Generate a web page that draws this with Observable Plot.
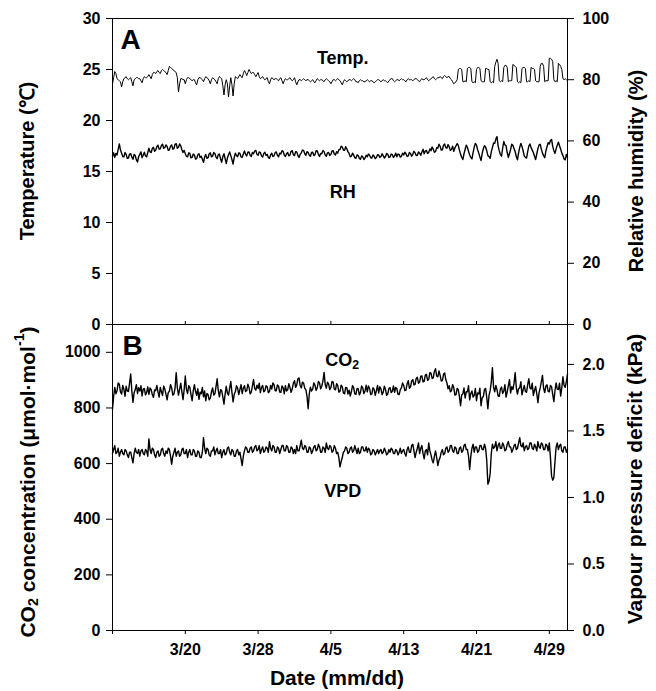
<!DOCTYPE html>
<html>
<head>
<meta charset="utf-8">
<script src="https://cdn.jsdelivr.net/npm/d3@7"></script>
<script src="https://cdn.jsdelivr.net/npm/@observablehq/plot@0.6"></script>
<style>
  body { margin: 0; background: #fff; }
  #chart { position: relative; width: 656px; height: 691px; background: #fff; }
  #chart svg { position: absolute; left: 0; overflow: visible; background: transparent !important; }
</style>
</head>
<body>
<div id="chart"></div>
<script>
// ---------- data, 8 samples per day starting 3/12 ----------
const samplesPerDay = 8;

const tempC = [
  23.6, 24.2, 24.8, 24.6, 24.1, 24.0, 23.9, 23.8,
  23.3, 23.8, 24.1, 24.2, 24.3, 24.1, 24.0, 24.1,
  24.2, 23.8, 23.4, 24.0, 24.1, 24.2, 24.2, 24.1,
  24.1, 23.9, 23.7, 24.1, 24.3, 24.2, 24.2, 24.3,
  24.5, 24.3, 24.1, 24.5, 24.7, 24.7, 24.6, 24.8,
  24.9, 24.7, 24.6, 24.9, 25.0, 24.9, 24.8, 24.7,
  24.5, 24.9, 25.3, 25.2, 25.1, 25.0, 24.9, 24.8,
  24.7, 24.2, 22.8, 23.6, 24.1, 24.1, 24.0, 24.0,
  23.6, 24.0, 24.2, 24.2, 24.1, 24.0, 23.9, 24.0,
  24.0, 23.7, 23.5, 24.0, 24.2, 24.2, 24.1, 24.0,
  23.8, 24.1, 24.3, 24.2, 24.1, 23.9, 23.6, 24.0,
  24.2, 24.1, 24.0, 23.8, 23.6, 24.1, 24.3, 24.2,
  24.1, 23.4, 22.5, 23.5, 24.0, 23.6, 22.3, 23.4,
  24.2, 23.5, 22.4, 23.6, 24.3, 24.2, 24.1, 24.3,
  24.5, 24.3, 24.2, 24.6, 24.9, 24.7, 24.4, 24.7,
  25.0, 24.8, 24.6, 24.7, 24.7, 24.5, 24.3, 24.5,
  24.7, 24.3, 24.1, 24.2, 24.3, 24.1, 24.0, 24.1,
  24.2, 23.8, 23.6, 24.0, 24.2, 24.1, 24.0, 24.1,
  24.1, 24.0, 23.9, 24.1, 24.2, 23.9, 23.6, 23.9,
  24.1, 24.0, 24.0, 24.1, 24.2, 24.0, 23.9, 24.0,
  24.2, 23.8, 23.5, 23.8, 24.0, 24.0, 23.9, 24.0,
  24.1, 24.0, 23.9, 24.0, 24.0, 23.9, 23.8, 23.9,
  24.0, 23.8, 23.7, 23.9, 24.1, 24.0, 23.9, 24.0,
  24.0, 23.9, 23.8, 24.0, 24.1, 24.0, 23.9, 23.8,
  23.6, 23.8, 24.0, 24.0, 23.9, 24.0, 24.1, 24.0,
  23.9, 23.7, 23.5, 23.8, 24.0, 23.9, 23.8, 23.9,
  24.0, 24.0, 23.9, 24.0, 24.1, 24.0, 23.8, 23.8,
  23.7, 23.9, 24.0, 23.9, 23.9, 23.8, 23.8, 23.9,
  24.0, 23.9, 23.8, 23.9, 23.9, 23.8, 23.7, 23.8,
  23.9, 24.0, 24.0, 23.9, 23.8, 23.9, 24.0, 23.9,
  23.9, 23.8, 23.7, 23.9, 24.0, 24.1, 24.1, 23.9,
  23.8, 23.9, 24.0, 24.0, 23.9, 24.0, 24.1, 24.0,
  24.0, 23.9, 23.8, 24.0, 24.1, 24.0, 24.0, 24.0,
  23.9, 24.0, 24.1, 24.1, 24.0, 23.9, 23.8, 24.0,
  24.1, 24.0, 24.0, 24.1, 24.2, 24.0, 23.9, 24.0,
  24.1, 24.2, 24.3, 24.1, 24.0, 24.1, 24.2, 24.2,
  24.3, 24.2, 24.1, 24.3, 24.4, 24.3, 24.2, 24.3,
  24.3, 24.1, 24.0, 23.8, 23.6, 23.7, 23.8, 24.0,
  25.0, 25.1, 25.1, 25.0, 23.8, 23.8, 23.9, 23.8,
  25.1, 25.2, 25.2, 25.1, 23.8, 23.7, 23.8, 23.7,
  25.0, 25.2, 25.2, 25.1, 23.9, 23.8, 23.8, 23.8,
  25.1, 25.1, 25.0, 25.0, 23.8, 23.7, 23.8, 23.7,
  25.3, 25.7, 26.0, 25.6, 23.9, 23.8, 23.9, 23.8,
  25.2, 25.4, 25.4, 25.2, 23.8, 23.9, 23.9, 23.9,
  25.5, 25.4, 25.3, 25.2, 23.8, 23.7, 23.8, 23.7,
  25.1, 25.2, 25.2, 25.1, 23.8, 23.8, 23.9, 23.8,
  25.2, 25.1, 25.1, 25.0, 23.9, 23.8, 23.8, 23.8,
  25.3, 25.6, 25.6, 25.3, 23.8, 23.9, 23.9, 23.9,
  26.1, 26.1, 26.0, 25.8, 24.0, 23.8, 23.9, 23.8,
  25.6, 25.5, 25.3, 25.0, 24.1, 24.0, 24.1, 24.0,
  23.9
];

const rhPct = [
  55.0, 56.1, 54.6, 55.9, 55.4, 57.2, 59.0, 57.1,
  56.0, 54.9, 54.8, 56.2, 55.6, 54.3, 54.4, 55.7,
  55.8, 54.7, 54.0, 55.6, 55.2, 53.8, 53.1, 54.9,
  55.6, 56.4, 54.5, 55.3, 56.3, 55.1, 54.8, 56.2,
  57.6, 56.4, 56.2, 57.5, 57.9, 56.6, 57.0, 58.1,
  58.6, 57.3, 57.4, 58.5, 58.9, 57.6, 57.8, 58.7,
  58.2, 56.9, 57.1, 58.3, 58.7, 57.3, 57.5, 58.9,
  59.1, 57.6, 57.9, 59.0, 58.4, 57.1, 56.2, 56.9,
  55.8, 55.0, 54.8, 56.1, 55.9, 54.5, 54.6, 55.7,
  55.4, 54.1, 54.2, 55.5, 55.8, 54.6, 55.0, 54.0,
  53.0, 54.7, 55.6, 54.3, 54.5, 55.8, 56.1, 54.8,
  55.0, 56.2, 55.9, 54.7, 54.2, 55.5, 55.7, 54.1,
  53.0, 54.9, 55.8, 54.2, 52.6, 54.4, 55.5, 56.4,
  55.2, 53.9, 52.4, 54.6, 56.0, 55.2, 54.8, 56.1,
  55.9, 54.8, 54.6, 55.7, 56.7, 55.6, 55.1, 56.3,
  56.4, 55.3, 54.9, 56.2, 55.8, 56.7, 56.9, 55.6,
  55.3, 56.4, 56.2, 55.1, 54.7, 55.9, 56.3, 55.2,
  55.6, 54.6, 54.3, 55.4, 56.0, 54.9, 55.1, 56.2,
  56.4, 55.3, 54.8, 56.0, 55.7, 56.8, 56.6, 55.4,
  54.9, 55.8, 56.2, 55.1, 55.4, 56.6, 56.8, 55.5,
  55.2, 56.5, 56.4, 55.2, 54.6, 55.6, 56.1, 57.0,
  56.9, 55.8, 55.3, 56.5, 56.2, 55.3, 55.0, 56.2,
  56.3, 55.2, 55.5, 56.8, 56.7, 55.6, 54.9, 55.9,
  55.8, 56.9, 56.5, 55.4, 55.0, 56.1, 56.2, 55.2,
  55.6, 56.7, 56.8, 55.7, 55.4, 56.5, 56.0, 57.1,
  57.2, 58.3, 58.0, 57.0, 56.9, 58.1, 57.4, 56.5,
  55.9, 54.8, 55.0, 56.0, 55.4, 54.5, 54.3, 55.4,
  55.2, 54.3, 54.0, 55.1, 54.8, 53.9, 54.4, 55.3,
  54.8, 55.7, 55.3, 54.5, 54.4, 55.4, 55.0, 54.2,
  54.6, 55.5, 55.4, 54.6, 54.9, 55.8, 55.2, 54.4,
  54.9, 55.9, 55.6, 54.6, 54.7, 55.7, 55.5, 54.6,
  55.1, 56.0, 54.8, 55.7, 55.6, 54.7, 55.0, 56.0,
  55.4, 56.3, 55.8, 54.9, 55.1, 56.2, 55.9, 55.0,
  55.6, 56.6, 56.1, 55.2, 55.3, 56.4, 56.0, 55.3,
  56.4, 57.3, 55.8, 56.7, 56.9, 55.9, 56.2, 57.4,
  56.8, 58.0, 57.3, 56.3, 56.5, 57.8, 57.6, 58.9,
  58.3, 57.0, 57.1, 58.6, 59.0, 57.8, 57.6, 58.8,
  58.1, 56.9, 57.2, 58.3, 56.6, 57.7, 58.4, 59.1,
  58.5, 57.0, 55.6, 54.7, 53.9, 55.8, 57.2, 58.6,
  57.9, 56.6, 55.4, 54.6, 54.1, 56.2, 58.0, 59.2,
  58.6, 57.1, 56.0, 54.7, 53.6, 55.9, 57.4, 58.4,
  58.0, 56.8, 55.2, 54.9, 54.3, 56.4, 57.8, 59.3,
  59.2, 60.6, 61.4, 58.4, 56.8, 55.6, 55.0, 57.6,
  59.8, 58.7, 58.4, 56.2, 54.6, 55.9, 57.2, 58.9,
  58.6, 57.4, 56.5, 54.9, 53.8, 56.1, 57.9, 59.2,
  58.2, 56.7, 55.1, 54.6, 54.4, 56.5, 58.3, 59.0,
  57.8, 57.0, 56.2, 55.0, 53.9, 55.8, 57.5, 58.7,
  58.9, 57.3, 56.0, 55.2, 54.5, 56.7, 58.1, 59.4,
  59.0, 60.1, 60.5, 58.2, 56.8, 55.9, 57.4, 58.6,
  59.6, 58.4, 57.3, 56.0, 55.2, 54.1, 53.8, 55.6,
  54.6
];

const co2Ppm = [
  796, 842, 874, 851, 862, 890, 885, 858,
  850, 881, 868, 842, 878, 861, 859, 889,
  922, 861, 820, 855, 866, 884, 852, 873,
  861, 880, 843, 868, 870, 847, 855, 876,
  849, 872, 866, 848, 838, 865, 862, 881,
  857, 839, 874, 858, 845, 879, 868, 850,
  829, 855, 860, 884, 872, 846, 850, 871,
  927, 872, 846, 868, 889, 858, 830, 866,
  915, 867, 852, 880, 874, 848, 826, 861,
  884, 860, 845, 869, 831, 857, 851, 874,
  840, 861, 826, 852, 848, 829, 835, 858,
  872, 846, 851, 877, 905, 862, 840, 866,
  862, 839, 814, 850, 878, 853, 846, 871,
  895, 856, 822, 849, 858, 880, 871, 848,
  866, 884, 852, 871, 880, 859, 862, 885,
  874, 851, 857, 879, 902, 870, 864, 882,
  870, 889, 855, 873, 881, 858, 862, 880,
  876, 855, 859, 881, 868, 890, 884, 862,
  862, 883, 878, 857, 856, 879, 873, 851,
  880, 861, 865, 887, 874, 856, 868, 889,
  898, 874, 883, 905, 908, 880, 872, 893,
  889, 871, 866, 842, 797, 851, 875, 861,
  868, 890, 882, 863, 873, 895, 890, 869,
  878, 897, 928, 884, 871, 893, 886, 866,
  874, 895, 893, 868, 865, 887, 881, 857,
  860, 882, 876, 854, 851, 874, 873, 850,
  864, 843, 858, 880, 873, 851, 849, 870,
  869, 847, 856, 879, 872, 852, 861, 882,
  858, 879, 870, 848, 851, 873, 867, 845,
  862, 881, 854, 876, 869, 848, 857, 878,
  866, 845, 851, 870, 873, 855, 860, 879,
  856, 874, 869, 849, 848, 866, 872, 890,
  881, 862, 864, 887, 898, 871, 876, 897,
  902, 883, 885, 906, 910, 889, 893, 914,
  915, 894, 896, 918, 921, 899, 903, 927,
  925, 906, 908, 932, 941, 914, 912, 933,
  918, 897, 898, 921, 926, 902, 890, 869,
  880, 858, 862, 884, 873, 846, 848, 870,
  866, 841, 808, 847, 851, 872, 836, 858,
  858, 880, 829, 852, 861, 839, 845, 870,
  826, 854, 850, 871, 808, 837, 841, 866,
  870, 838, 797, 845, 862, 893, 945, 874,
  858, 881, 866, 843, 842, 868, 875, 852,
  861, 884, 839, 858, 880, 902, 854, 876,
  866, 889, 927, 873, 850, 869, 872, 894,
  847, 866, 881, 859, 856, 884, 905, 872,
  868, 889, 845, 863, 877, 851, 819, 855,
  872, 894, 917, 870, 855, 879, 883, 860,
  858, 881, 876, 849, 823, 862, 890, 868,
  866, 889, 843, 874, 912, 881, 874, 895,
  922
];

const vpdKPa = [
  1.33, 1.36, 1.39, 1.33, 1.34, 1.37, 1.31, 1.34,
  1.36, 1.33, 1.32, 1.36, 1.35, 1.32, 1.30, 1.34,
  1.34, 1.30, 1.26, 1.33, 1.37, 1.34, 1.33, 1.36,
  1.31, 1.35, 1.36, 1.33, 1.32, 1.36, 1.35, 1.31,
  1.44, 1.36, 1.33, 1.37, 1.36, 1.32, 1.30, 1.34,
  1.35, 1.31, 1.32, 1.36, 1.37, 1.33, 1.31, 1.35,
  1.33, 1.37, 1.36, 1.31, 1.25, 1.31, 1.34, 1.37,
  1.31, 1.34, 1.35, 1.31, 1.32, 1.36, 1.37, 1.33,
  1.33, 1.36, 1.30, 1.34, 1.36, 1.32, 1.32, 1.36,
  1.35, 1.31, 1.31, 1.35, 1.34, 1.30, 1.30, 1.34,
  1.45, 1.37, 1.33, 1.37, 1.36, 1.32, 1.31, 1.35,
  1.35, 1.38, 1.32, 1.35, 1.37, 1.33, 1.33, 1.36,
  1.30, 1.34, 1.36, 1.32, 1.33, 1.37, 1.38, 1.34,
  1.32, 1.36, 1.35, 1.31, 1.31, 1.35, 1.36, 1.32,
  1.34, 1.29, 1.24, 1.31, 1.35, 1.38, 1.37, 1.34,
  1.34, 1.37, 1.38, 1.34, 1.35, 1.38, 1.39, 1.35,
  1.36, 1.39, 1.33, 1.36, 1.38, 1.34, 1.35, 1.38,
  1.37, 1.34, 1.42, 1.37, 1.35, 1.39, 1.38, 1.34,
  1.34, 1.38, 1.37, 1.33, 1.36, 1.39, 1.39, 1.35,
  1.35, 1.39, 1.38, 1.34, 1.34, 1.38, 1.37, 1.33,
  1.36, 1.33, 1.39, 1.35, 1.35, 1.39, 1.43, 1.37,
  1.36, 1.39, 1.38, 1.34, 1.34, 1.38, 1.37, 1.33,
  1.35, 1.38, 1.39, 1.35, 1.36, 1.40, 1.38, 1.34,
  1.34, 1.38, 1.37, 1.34, 1.41, 1.37, 1.36, 1.39,
  1.38, 1.34, 1.35, 1.39, 1.37, 1.33, 1.34, 1.30,
  1.23, 1.27, 1.30, 1.34, 1.35, 1.38, 1.37, 1.33,
  1.34, 1.37, 1.38, 1.34, 1.35, 1.39, 1.36, 1.33,
  1.37, 1.33, 1.34, 1.38, 1.38, 1.35, 1.35, 1.38,
  1.34, 1.37, 1.36, 1.32, 1.33, 1.36, 1.35, 1.32,
  1.34, 1.36, 1.33, 1.35, 1.36, 1.33, 1.34, 1.37,
  1.35, 1.32, 1.33, 1.36, 1.34, 1.37, 1.36, 1.33,
  1.33, 1.36, 1.35, 1.32, 1.34, 1.37, 1.33, 1.35,
  1.36, 1.33, 1.31, 1.36, 1.38, 1.34, 1.34, 1.39,
  1.40, 1.35, 1.30, 1.34, 1.37, 1.41, 1.33, 1.37,
  1.39, 1.33, 1.29, 1.35, 1.36, 1.32, 1.41, 1.35,
  1.32, 1.28, 1.26, 1.31, 1.35, 1.30, 1.24, 1.28,
  1.30, 1.34, 1.36, 1.32, 1.33, 1.37, 1.38, 1.34,
  1.35, 1.39, 1.39, 1.35, 1.34, 1.38, 1.37, 1.33,
  1.33, 1.37, 1.38, 1.34, 1.35, 1.39, 1.40, 1.36,
  1.36, 1.31, 1.21, 1.31, 1.37, 1.40, 1.34, 1.38,
  1.38, 1.34, 1.35, 1.39, 1.39, 1.36, 1.36, 1.40,
  1.37, 1.28, 1.10, 1.12, 1.18, 1.33, 1.40, 1.37,
  1.38, 1.42, 1.35, 1.39, 1.41, 1.37, 1.37, 1.41,
  1.39, 1.35, 1.36, 1.40, 1.42, 1.38, 1.38, 1.34,
  1.36, 1.39, 1.40, 1.36, 1.37, 1.41, 1.45, 1.39,
  1.38, 1.41, 1.35, 1.38, 1.39, 1.36, 1.37, 1.41,
  1.41, 1.37, 1.36, 1.40, 1.38, 1.35, 1.42, 1.38,
  1.37, 1.41, 1.40, 1.36, 1.36, 1.40, 1.39, 1.35,
  1.41, 1.30, 1.16, 1.13, 1.15, 1.27, 1.38, 1.41,
  1.36, 1.39, 1.40, 1.35, 1.34, 1.38, 1.38, 1.34,
  1.36
];

// ---------- ticks ----------
const dateTickDays = [0, 8, 16, 24, 32, 40, 48];          // days after 3/12
const dateTickLabels = ["", "3/20", "3/28", "4/5", "4/13", "4/21", "4/29"];
const tempTicks = [0, 5, 10, 15, 20, 25, 30];
const rhTicks = [0, 20, 40, 60, 80, 100];
const co2Ticks = [0, 200, 400, 600, 800, 1000];
const vpdTicks = [0, 0.5, 1.0, 1.5, 2.0];

// ---------- scale relations ----------
const dayDomain = [0, 50];
const tempDomain = [0, 30];
const rhMax = 100;
const co2Domain = [0, 1100];
const vpdMax = 2.3;
const RH_TO_T = tempDomain[1] / rhMax;
const VPD_TO_CO2 = co2Domain[1] / vpdMax;

const FONT = '"Liberation Sans", Arial, Helvetica, sans-serif';
const dayOf = (d, i) => i / samplesPerDay;

const common = {
  width: 656,
  marginLeft: 112,
  marginRight: 89,
  style: { fontFamily: FONT, fontSize: "16px", fontWeight: "bold", color: "#000", background: "transparent", overflow: "visible" }
};

const plotA = Plot.plot({
  ...common,
  height: 325,
  marginTop: 18,
  marginBottom: 1,
  x: { domain: dayDomain, axis: null },
  y: { domain: tempDomain, axis: null },
  marks: [
    Plot.frame({ stroke: "#000" }),
    Plot.axisY({ anchor: "left", ticks: tempTicks, tickFormat: d => String(d), tickSize: 6, tickPadding: 6, label: null }),
    Plot.axisY({ anchor: "right", ticks: rhTicks.map(r => r * RH_TO_T), tickFormat: d => String(Math.round(d / RH_TO_T)), tickSize: 6, tickPadding: 9, label: null }),
    Plot.line(tempC, { x: dayOf, y: d => d, stroke: "#000", strokeWidth: 1 }),
    Plot.line(rhPct, { x: dayOf, y: d => d * RH_TO_T, stroke: "#000", strokeWidth: 1.4 }),
    Plot.text(["A"], { text: d => d, frameAnchor: "top-left", dx: 8, dy: 11, lineAnchor: "top", textAnchor: "start", fontSize: 28, fontWeight: "bold" }),
    Plot.text(["Temp."], { text: d => d, x: 25.3, y: 26.1, fontSize: 18, fontWeight: "bold" }),
    Plot.text(["RH"], { text: d => d, x: 25.3, y: 13.0, fontSize: 18, fontWeight: "bold" })
  ]
});

const plotB = Plot.plot({
  ...common,
  height: 367,
  marginTop: 0,
  marginBottom: 61,
  x: { domain: dayDomain },
  y: { domain: co2Domain },
  marks: [
    Plot.frame({ stroke: "#000" }),
    Plot.axisY({ anchor: "left", ticks: co2Ticks, tickFormat: d => String(d), tickSize: 6, tickPadding: 6, label: null }),
    Plot.axisY({ anchor: "right", ticks: vpdTicks.map(v => v * VPD_TO_CO2), tickFormat: d => (d / VPD_TO_CO2).toFixed(1), tickSize: 6, tickPadding: 9, label: null }),
    Plot.axisX({ anchor: "bottom", ticks: dateTickDays, tickFormat: d => dateTickLabels[dateTickDays.indexOf(d)], tickSize: 4, tickPadding: 9, label: null }),
    Plot.axisX({ anchor: "top", ticks: dateTickDays, tickFormat: () => "", tickSize: 4, label: null }),
    Plot.line(co2Ppm, { x: dayOf, y: d => d, stroke: "#000", strokeWidth: 1.4 }),
    Plot.line(vpdKPa, { x: dayOf, y: d => d * VPD_TO_CO2, stroke: "#000", strokeWidth: 1.4 }),
    Plot.text(["B"], { text: d => d, frameAnchor: "top-left", dx: 10, dy: 11, lineAnchor: "top", textAnchor: "start", fontSize: 28, fontWeight: "bold" }),
    Plot.text(["VPD"], { text: d => d, x: 25.3, y: 499, fontSize: 18, fontWeight: "bold" })
  ]
});

const chart = document.getElementById("chart");
plotA.style.top = "0px";
plotB.style.top = "324px";
chart.appendChild(plotA);
chart.appendChild(plotB);

// ---------- overlay for titles with sub/superscripts ----------
const NS = "http://www.w3.org/2000/svg";
const overlay = document.createElementNS(NS, "svg");
overlay.setAttribute("width", 656);
overlay.setAttribute("height", 691);
overlay.style.top = "0px";
overlay.style.pointerEvents = "none";
overlay.setAttribute("font-family", FONT);
overlay.setAttribute("font-weight", "bold");
chart.appendChild(overlay);

function addText(x, y, parts, size, rotate) {
  const t = document.createElementNS(NS, "text");
  t.setAttribute("x", x);
  t.setAttribute("y", y);
  t.setAttribute("font-size", size);
  t.setAttribute("text-anchor", "middle");
  t.setAttribute("dominant-baseline", "central");
  t.setAttribute("fill", "#000");
  if (rotate) t.setAttribute("transform", `rotate(-90 ${x} ${y})`);
  let shift = 0;
  for (const p of parts) {
    const s = document.createElementNS(NS, "tspan");
    const target = p.sub ? size * 0.28 : p.sup ? -size * 0.4 : 0;
    if (target - shift !== 0) s.setAttribute("dy", target - shift);
    shift = target;
    if (p.sub || p.sup) s.setAttribute("font-size", size * 0.68);
    s.textContent = p.t;
    t.appendChild(s);
  }
  overlay.appendChild(t);
}

addText(27, 161, [{ t: "Temperature (℃)" }], 20, true);
addText(636, 171, [{ t: "Relative humidity (%)" }], 20, true);
addText(27, 482, [{ t: "CO" }, { t: "2", sub: true }, { t: " concentration (μmol·mol" }, { t: "-1", sup: true }, { t: ")" }], 21, true);
addText(634, 479, [{ t: "Vapour pressure deficit (kPa)" }], 21, true);
addText(337, 677, [{ t: "Date (mm/dd)" }], 21, false);

// CO2 series label, positioned through panel B's scales
const sx = plotB.scale("x"), sy = plotB.scale("y");
addText(sx.apply(25.3), 324 + sy.apply(969), [{ t: "CO" }, { t: "2", sub: true }], 18, false);
</script>
</body>
</html>
